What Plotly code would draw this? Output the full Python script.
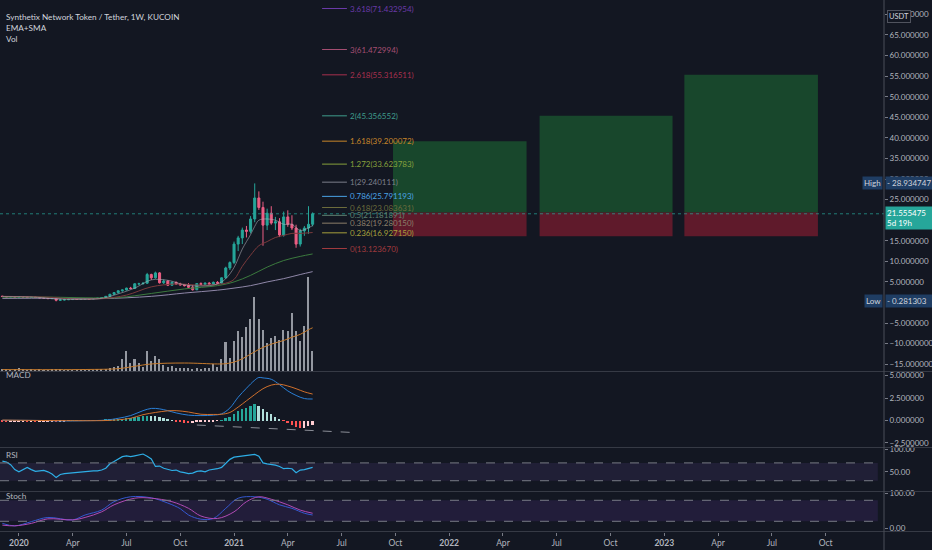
import pandas as pd
import plotly.graph_objects as go

# weekly bars SNX/USDT (KuCoin)
weeks = pd.date_range("2019-12-09", periods=76, freq="7D")

opens = [1.55, 1.45, 1.35, 1.42, 1.32, 1.40, 1.34, 1.20, 1.30, 1.22,
         1.10, 1.02, 0.95, 1.00, 0.55, 0.62, 0.68, 0.72, 0.80, 0.74,
         0.83, 0.90, 0.86, 0.95, 1.05, 1.20, 1.50, 2.00, 2.40, 2.85,
         3.05, 3.50, 3.40, 4.55, 4.55, 4.70, 6.80, 6.00, 7.20, 4.80,
         5.20, 4.20, 4.90, 4.50, 4.30, 4.10, 3.70, 3.10, 4.60, 4.40,
         4.70, 4.50, 4.90, 4.70, 6.00, 8.40, 9.70, 14.2, 15.7, 17.6,
         17.3, 20.3, 25.4, 23.1, 18.8, 21.7, 19.3, 19.6, 16.4, 20.8,
         19.0, 18.1, 14.2, 17.4, 18.1, 19.0]
highs = [1.62, 1.50, 1.48, 1.50, 1.46, 1.52, 1.38, 1.36, 1.40, 1.30,
         1.22, 1.10, 1.05, 1.02, 0.70, 0.75, 0.80, 0.85, 0.88, 0.86,
         0.95, 1.00, 0.98, 1.10, 1.25, 1.55, 2.10, 2.50, 2.95, 3.15,
         3.60, 3.80, 4.70, 4.80, 4.80, 7.20, 7.00, 7.50, 7.40, 5.60,
         5.40, 5.10, 5.10, 4.80, 4.50, 4.70, 4.20, 4.70, 4.90, 4.90,
         5.00, 5.10, 5.20, 6.10, 8.70, 10.0, 14.8, 16.2, 18.2, 18.6,
         21.0, 28.934747, 27.0, 24.5, 22.8, 23.4, 20.8, 20.5, 22.1, 22.4,
         21.2, 18.9, 17.9, 18.6, 23.4, 21.9]
lows = [1.40, 1.30, 1.30, 1.28, 1.25, 1.30, 1.15, 1.15, 1.18, 1.05,
        0.98, 0.90, 0.88, 0.281303, 0.48, 0.55, 0.60, 0.68, 0.70, 0.70,
        0.78, 0.82, 0.80, 0.90, 1.00, 1.15, 1.45, 1.90, 2.20, 2.60,
        2.95, 3.20, 3.35, 4.20, 4.40, 4.50, 5.50, 5.80, 4.60, 4.50,
        4.00, 4.10, 4.30, 4.10, 3.90, 3.50, 2.90, 3.00, 4.20, 4.20,
        4.30, 4.30, 4.50, 4.60, 5.80, 7.90, 9.30, 12.5, 14.2, 15.8,
        16.8, 19.5, 22.5, 13.8, 17.6, 18.9, 17.6, 15.9, 16.0, 18.4,
        17.6, 13.3, 13.6, 16.2, 16.7, 18.5]
closes = [1.45, 1.35, 1.42, 1.32, 1.40, 1.34, 1.20, 1.30, 1.22, 1.10,
          1.02, 0.95, 1.00, 0.55, 0.62, 0.68, 0.72, 0.80, 0.74, 0.83,
          0.90, 0.86, 0.95, 1.05, 1.20, 1.50, 2.00, 2.40, 2.85, 3.05,
          3.50, 3.40, 4.55, 4.55, 4.70, 6.80, 6.00, 7.20, 4.80, 5.20,
          4.20, 4.90, 4.50, 4.30, 4.10, 3.70, 3.10, 4.60, 4.40, 4.70,
          4.50, 4.90, 4.70, 6.00, 8.40, 9.70, 14.2, 15.7, 17.6, 17.3,
          20.3, 25.4, 23.1, 18.8, 21.7, 19.3, 19.6, 16.4, 20.8, 19.0,
          18.1, 14.2, 17.4, 18.1, 19.0, 21.555475]
volume = [2, 1.5, 1, 1.5, 3, 1.5, 1, 1.5, 1, 1.5,
          1, 1, 1.5, 2.5, 1.5, 1, 1, 0.8, 0.8, 0.8,
          1, 0.8, 1, 1.2, 1.5, 2, 3, 4.5, 5, 12.5,
          21.5, 8, 12.5, 8, 4, 21.5, 11, 16, 12.5, 6.5,
          4, 5.4, 3, 3, 3, 3.6, 2, 3, 2, 3.6,
          3, 7, 4.3, 12.5, 30.5, 14.3, 32, 43, 36.5, 47,
          55.5, 79, 55.5, 44, 29.4, 35, 37, 33, 44, 43,
          61.6, 43, 32, 48, 100, 21.5]

# moving averages (EMA+SMA), sampled at week indexes
ema_fast_idx = [0, 8, 13, 18, 24, 28, 32, 36, 40, 44, 48, 52, 54, 56, 58, 60, 61, 62, 64, 66, 68, 70, 72, 75]
ema_fast = [1.45, 1.30, 0.85, 0.75, 1.00, 2.10, 3.50, 5.50, 5.40, 4.30, 4.00, 4.50, 5.80, 8.50, 13.0, 16.5, 18.5, 20.0, 20.3, 20.0, 19.0, 19.0, 17.5, 18.7]
ema_mid_idx = [0, 12, 16, 24, 30, 36, 42, 48, 52, 54, 56, 58, 60, 62, 64, 66, 68, 70, 72, 75]
ema_mid = [1.50, 1.25, 0.90, 0.95, 1.80, 3.80, 4.50, 4.20, 4.40, 4.70, 5.60, 8.80, 11.5, 13.8, 14.8, 15.8, 16.3, 16.8, 16.8, 17.0]
sma_50_idx = [0, 12, 20, 28, 36, 44, 52, 56, 60, 64, 68, 72, 75]
sma_50 = [1.3, 1.3, 1.15, 1.2, 2.2, 3.3, 4.1, 5.0, 6.6, 8.6, 10.2, 11.2, 11.8]
sma_100_idx = [0, 12, 24, 36, 44, 52, 56, 60, 64, 68, 72, 75]
sma_100 = [1.0, 1.05, 0.95, 1.5, 2.3, 3.0, 3.5, 4.1, 5.0, 5.8, 6.8, 7.5]

vol_ma_idx = [0, 20, 28, 32, 36, 44, 52, 54, 56, 58, 60, 62, 64, 66, 68, 70, 72, 74, 75]
vol_ma = [1.5, 1.6, 2.5, 5, 7.5, 8.5, 7.5, 7.8, 9.5, 13, 18, 23, 27, 30, 32.5, 36, 39, 44, 46]

# MACD
macd_idx = [0, 10, 14, 20, 25, 28, 31, 34, 36, 38, 40, 42, 45, 48, 51, 53, 55, 57, 59, 61, 62, 63, 65, 67, 69, 71, 73, 75]
macd = [0.03, 0.0, -0.05, -0.02, 0.05, 0.25, 0.55, 1.1, 1.35, 1.3, 1.1, 0.85, 0.6, 0.55, 0.6, 0.75, 1.4, 2.6, 3.6, 4.5, 4.8, 4.75, 4.6, 4.0, 3.3, 2.8, 2.45, 2.4]
signal_idx = [0, 14, 25, 28, 31, 34, 37, 40, 42, 45, 48, 51, 53, 55, 57, 59, 61, 63, 65, 67, 69, 71, 73, 75]
signal = [0.05, -0.01, 0.0, 0.08, 0.25, 0.65, 0.9, 1.08, 1.1, 0.95, 0.7, 0.68, 0.7, 0.9, 1.5, 2.2, 2.9, 3.55, 3.95, 4.05, 3.85, 3.55, 3.2, 2.95]
hist = [-0.08, -0.1, -0.1, -0.08, -0.06, -0.06, -0.08, -0.08, -0.1, -0.1,
        -0.1, -0.1, -0.08, -0.15, -0.1, -0.06, -0.04, 0.04, 0.05, 0.05,
        0.05, 0.05, 0.05, 0.05, 0.06, 0.08, 0.10, 0.14, 0.18, 0.22,
        0.26, 0.28, 0.34, 0.38, 0.48, 0.56, 0.52, 0.50, 0.38, 0.28,
        0.16, 0.05, -0.08, -0.16, -0.22, -0.28, -0.24, -0.18, -0.14, -0.12,
        -0.08, -0.06, -0.05, 0.06, 0.25, 0.45, 0.75, 1.05, 1.30, 1.45,
        1.60, 1.85, 1.65, 1.30, 1.00, 0.70, 0.45, 0.20, -0.05, -0.30,
        -0.50, -0.70, -0.85, -0.78, -0.62, -0.50]
trend_dates = ["2020-11-02", "2021-08-02"]
trend_vals = [-0.5, -1.36]

rsi = [74, 72, 66, 55, 50, 56, 60, 55, 51, 52,
       53, 50, 45, 37, 44, 46, 47, 48, 49, 50,
       51, 51, 52, 52, 54, 58, 68, 73, 78, 84,
       86, 84, 86, 88, 90, 85, 79, 62, 63, 58,
       56, 53, 54, 50, 48, 46, 47, 51, 52, 50,
       54, 55, 57, 60, 68, 78, 83, 84, 85, 86,
       88, 89, 85, 70, 68, 67, 65, 62, 57, 58,
       57, 48, 54, 55, 57, 60]

stoch_k_idx = [0, 3, 7, 11, 17, 20, 24, 27, 31, 36, 40, 43, 45, 48, 51, 54, 57, 61, 64, 67, 70, 73, 75]
stoch_k = [14, 7, 19, 31, 24, 38, 52, 76, 90, 87, 72, 56, 38, 26, 28, 57, 86, 90, 83, 67, 57, 43, 38]
stoch_d_idx = [0, 3, 7, 11, 17, 20, 24, 27, 32, 36, 41, 45, 48, 52, 56, 59, 62, 65, 69, 72, 75]
stoch_d = [9, 7, 14, 27, 24, 31, 47, 67, 86, 86, 76, 57, 35, 28, 47, 76, 90, 83, 67, 52, 43]

# fib extension drawing
fib_ratio = ["0", "0.236", "0.382", "0.5", "0.618", "0.786", "1", "1.272", "1.618", "2", "2.618", "3", "3.618"]
fib_price = [13.123670, 16.927150, 19.280150, 21.181891, 23.083631, 25.791193, 29.240111,
             33.623783, 39.200072, 45.356552, 55.316511, 61.472994, 71.432954]
fib_color = ["#a03a3e", "#a8a03c", "#8c7f6a", "#5f8070", "#6c6c3c", "#4aa3e6", "#7c7f8a",
             "#86a03c", "#c8862a", "#3f9d8c", "#a8304e", "#a44e72", "#6a3aa8"]
fib_start = "2021-06-02"
fib_end = "2021-07-14"

# long position boxes
pos_start = ["2021-09-30", "2022-06-05", "2023-02-05"]
pos_end = ["2022-05-14", "2023-01-16", "2023-09-19"]
pos_target = [39.200072, 45.356552, 55.316511]
pos_entry = 21.9
pos_stop = 16.1

last_price = 21.555475
high_price = 28.934747
low_price = 0.281303

# price scale ticks (20 and 0 sit under the last-price and Low tags)
price_ticks = [-15, -10, -5, 5, 10, 15, 25, 30, 35, 40, 45, 50, 55, 60, 65, 70]

tick_dates = ["2020-01-06", "2020-04-06", "2020-07-06", "2020-10-05",
              "2021-01-04", "2021-04-05", "2021-07-05", "2021-10-04",
              "2022-01-03", "2022-04-04", "2022-07-04", "2022-10-03",
              "2023-01-02", "2023-04-03", "2023-07-03", "2023-10-02"]
tick_text = ["<b>2020</b>", "Apr", "Jul", "Oct", "<b>2021</b>", "Apr", "Jul", "Oct",
             "<b>2022</b>", "Apr", "Jul", "Oct", "<b>2023</b>", "Apr", "Jul", "Oct"]

BG = "#131722"
TXT = "#b2b5be"
SEP = "#363a45"


def pick(idx):
    return [weeks[i] for i in idx]


def py(px):
    # pixel row inside the 532px plot area -> paper y
    return (532 - px) / 532


fig = go.Figure()

# volume (overlay on price pane)
fig.add_trace(go.Bar(x=weeks, y=volume, yaxis="y2", marker=dict(color="#a3a6af", line_width=0),
                     width=2.6 * 86400000, opacity=0.9))
fig.add_trace(go.Scatter(x=pick(vol_ma_idx), y=vol_ma, yaxis="y2", mode="lines",
                         line=dict(color="#c57a2c", width=1, shape="spline")))

# moving averages
fig.add_trace(go.Scatter(x=pick(sma_100_idx), y=sma_100, mode="lines",
                         line=dict(color="#8f87a8", width=1, shape="spline")))
fig.add_trace(go.Scatter(x=pick(sma_50_idx), y=sma_50, mode="lines",
                         line=dict(color="#3b7a3e", width=1, shape="spline")))
fig.add_trace(go.Scatter(x=pick(ema_mid_idx), y=ema_mid, mode="lines",
                         line=dict(color="#7a3a3c", width=1, shape="spline")))
fig.add_trace(go.Scatter(x=pick(ema_fast_idx), y=ema_fast, mode="lines",
                         line=dict(color="rgba(178,181,190,0.55)", width=1, shape="spline")))

fig.add_trace(go.Candlestick(
    x=weeks, open=opens, high=highs, low=lows, close=closes,
    increasing=dict(line=dict(color="#26a69a", width=1), fillcolor="#26a69a"),
    decreasing=dict(line=dict(color="#ec5e84", width=1), fillcolor="#ec5e84"),
    whiskerwidth=0,
))

# fib levels
for r, p, c in zip(fib_ratio, fib_price, fib_color):
    fig.add_trace(go.Scatter(x=[fib_start, fib_end], y=[p, p], mode="lines",
                             line=dict(color=c, width=1)))
    fig.add_annotation(x=fib_end, y=p, xref="x", yref="y", text=f"{r}({p:.6f})",
                       showarrow=False, xanchor="left", xshift=1,
                       font=dict(size=8, color=c))

# position boxes
for s, e, t in zip(pos_start, pos_end, pos_target):
    fig.add_shape(type="rect", xref="x", yref="y", x0=s, x1=e, y0=pos_entry, y1=t,
                  fillcolor="rgba(30,112,52,0.55)", line_width=0, layer="below")
    fig.add_shape(type="rect", xref="x", yref="y", x0=s, x1=e, y0=pos_stop, y1=pos_entry,
                  fillcolor="rgba(172,30,52,0.5)", line_width=0, layer="below")

# last price line
fig.add_shape(type="line", xref="paper", yref="y", x0=0, x1=1, y0=last_price, y1=last_price,
              line=dict(color="rgba(38,166,154,0.7)", width=1, dash="dot"))

# MACD pane
hist_colors = []
for i, h in enumerate(hist):
    prev = hist[i - 1] if i else 0
    if h >= 0:
        hist_colors.append("#26a69a" if h >= prev else "#b2dfdb")
    else:
        hist_colors.append("#ff5252" if h < prev else "#ffcdd2")
fig.add_trace(go.Bar(x=weeks, y=hist, yaxis="y3", marker=dict(color=hist_colors, line_width=0),
                     width=3.2 * 86400000))
fig.add_trace(go.Scatter(x=pick(macd_idx), y=macd, yaxis="y3", mode="lines",
                         line=dict(color="#2a7fd6", width=1, shape="spline")))
fig.add_trace(go.Scatter(x=pick(signal_idx), y=signal, yaxis="y3", mode="lines",
                         line=dict(color="#d0702c", width=1, shape="spline")))
fig.add_trace(go.Scatter(x=trend_dates, y=trend_vals, yaxis="y3", mode="lines",
                         line=dict(color="#8a8d96", width=1, dash="dash")))

# RSI pane
fig.add_shape(type="rect", xref="paper", yref="y4", x0=0, x1=0.993, y0=30, y1=70,
              fillcolor="rgba(126,87,194,0.13)", line_width=0, layer="below")
for lvl in (30, 70):
    fig.add_shape(type="line", xref="paper", yref="y4", x0=0, x1=0.993, y0=lvl, y1=lvl,
                  line=dict(color="#787b86", width=1, dash="dash"))
fig.add_trace(go.Scatter(x=weeks, y=rsi, yaxis="y4", mode="lines",
                         line=dict(color="#2eaee6", width=1.2)))

# Stoch pane
fig.add_shape(type="rect", xref="paper", yref="y5", x0=0, x1=0.993, y0=20, y1=80,
              fillcolor="rgba(120,70,200,0.15)", line_width=0, layer="below")
for lvl in (20, 80):
    fig.add_shape(type="line", xref="paper", yref="y5", x0=0, x1=0.993, y0=lvl, y1=lvl,
                  line=dict(color="#787b86", width=1, dash="dash"))
fig.add_trace(go.Scatter(x=pick(stoch_k_idx), y=stoch_k, yaxis="y5", mode="lines",
                         line=dict(color="#3558d0", width=1, shape="spline")))
fig.add_trace(go.Scatter(x=pick(stoch_d_idx), y=stoch_d, yaxis="y5", mode="lines",
                         line=dict(color="#b04ab4", width=1, shape="spline")))

# pane separators and price axis line
for p in (371.5, 447.5, 491.5, 531.5):
    fig.add_shape(type="line", xref="paper", yref="paper", x0=0, x1=932 / 884, y0=py(p), y1=py(p),
                  line=dict(color=SEP, width=1))
fig.add_shape(type="line", xref="paper", yref="paper", x0=1, x1=1, y0=py(550), y1=1,
              line=dict(color="#4a4e59", width=1))

# header / pane titles
for i, t in enumerate(["Synthetix Network Token / Tether, 1W, KUCOIN", "EMA+SMA", "Vol"]):
    fig.add_annotation(x=4 / 884, y=py(10 + 11 * i), xref="paper", yref="paper", text=t,
                       showarrow=False, xanchor="left", font=dict(size=8.2, color="#d1d4dc"))
for t, p in (("MACD", 382), ("RSI", 462), ("Stoch", 503)):
    fig.add_annotation(x=4 / 884, y=py(p), xref="paper", yref="paper", text=t,
                       showarrow=False, xanchor="left", font=dict(size=8.2, color=TXT))

# price scale labels
fig.add_annotation(x=911 / 884, y=py(10), xref="paper", yref="paper", text="USDT", showarrow=False,
                   font=dict(size=7.5, color="#d1d4dc"), bgcolor=BG, bordercolor="#50535e",
                   borderwidth=1, borderpad=1)
for name, val in (("High", high_price), ("Low", low_price)):
    fig.add_annotation(x=883 / 884, y=val, xref="paper", yref="y", text=name, showarrow=False,
                       xanchor="right", font=dict(size=8, color="#d1d4dc"), bgcolor="#1f3d63",
                       borderpad=1)
    fig.add_annotation(x=885 / 884, y=val, xref="paper", yref="y", text="- " + f"{val:.6f}",
                       showarrow=False, xanchor="left", width=45, align="left",
                       font=dict(size=8, color="#d1d4dc"), bgcolor="#1f3d63", borderpad=1)
fig.add_annotation(x=885 / 884, y=last_price, xref="paper", yref="y",
                   text=f"{last_price:.6f}<br>5d 19h", showarrow=False, xanchor="left",
                   yanchor="top", yshift=8, width=45, align="left",
                   font=dict(size=8, color="#ffffff"), bgcolor="#26a69a", borderpad=1)

axis_common = dict(showgrid=False, zeroline=False, side="right", ticks="outside", ticklen=3,
                   tickcolor="#787b86", tickfont=dict(size=8, color=TXT), anchor="x",
                   showline=False, fixedrange=True, automargin=False)

fig.update_layout(
    width=932, height=550,
    margin=dict(l=0, r=48, t=0, b=18),
    paper_bgcolor=BG, plot_bgcolor=BG,
    showlegend=False, hovermode=False, bargap=0,
    font=dict(family="Lato, Noto Sans, sans-serif", size=9, color=TXT),
    xaxis=dict(type="date", range=["2019-12-05", "2024-01-08 19:00"], anchor="y5",
               tickvals=tick_dates, ticktext=tick_text, showgrid=False, zeroline=False,
               ticks="outside", ticklen=3, tickcolor="#787b86", automargin=False,
               tickfont=dict(size=8.5, color=TXT), rangeslider=dict(visible=False),
               fixedrange=True),
    yaxis=dict(domain=[py(371), 1], range=[-16.64, 73.5],
               tickvals=price_ticks, tickformat=".6f", **axis_common),
    yaxis2=dict(overlaying="y", range=[0, 395], visible=False, fixedrange=True),
    yaxis3=dict(domain=[py(447), py(372)], range=[-2.95, 5.41],
                tickvals=[-2.5, 0, 2.5, 5], tickformat=".6f", **axis_common),
    yaxis4=dict(domain=[py(491), py(448)], range=[6.9, 103.5],
                tickvals=[50, 100], tickformat=".2f", **axis_common),
    yaxis5=dict(domain=[0, py(492)], range=[-10.6, 103.7],
                tickvals=[0, 100], tickformat=".2f", **axis_common),
)

# page body margin would push the chart off the window
fig.write_html("out.html", config={"displayModeBar": False},
               post_script="document.body.style.margin='0';document.body.style.background='#131722';")
